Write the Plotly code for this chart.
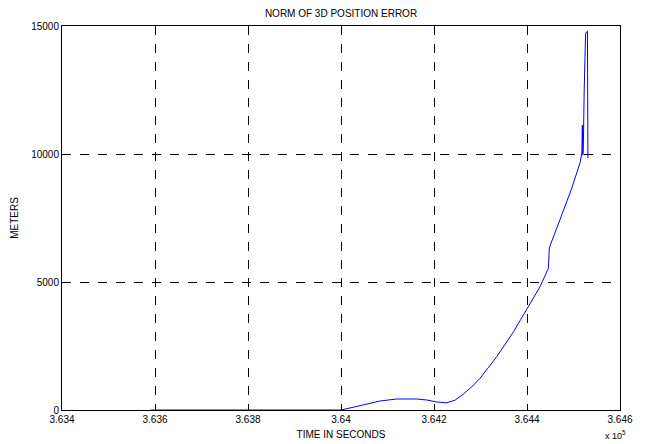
import plotly.graph_objects as go

# time in units of 1e5 seconds, error norm in meters
t = [3.6359, 3.6370, 3.6385, 3.6395, 3.6400, 3.64047, 3.64084, 3.64120, 3.64163,
     3.64185, 3.64206, 3.64227, 3.64245, 3.64263, 3.64281, 3.64299, 3.64335, 3.64371,
     3.64399, 3.64428, 3.64446, 3.64448, 3.64471, 3.64495, 3.64514, 3.64518,
     3.64519, 3.64520, 3.64521, 3.64523, 3.64526, 3.64528, 3.64530, 3.64531]
err = [0, 0, 0, 0, 0, 195, 352, 430, 430,
       390, 312, 280, 380, 620, 900, 1238, 2082, 3059,
       3906, 4816, 5535, 6340, 7440, 8600, 9648, 10039,
       11133, 9960, 10150, 12500, 14700, 14766, 14800, 9844]

xticks = [3.634, 3.636, 3.638, 3.640, 3.642, 3.644, 3.646]
xlabels = ["3.634", "3.636", "3.638", "3.64", "3.642", "3.644", "3.646"]
yticks = [0, 5000, 10000, 15000]
ylabels = ["0", "5000", "10000", "15000"]

fig = go.Figure()
fig.add_trace(go.Scatter(x=t, y=err, mode="lines",
                         line=dict(color="#0000ff", width=1)))

axis_style = dict(showline=True, linecolor="black", linewidth=1, mirror=True,
                  ticks="", showgrid=True, gridcolor="black", griddash="dash", gridwidth=1,
                  zeroline=False, automargin=False, tickfont=dict(size=10, color="black"))

fig.update_xaxes(range=[3.634, 3.646], tickvals=xticks, ticktext=xlabels,
                 title=dict(text="TIME IN SECONDS", font=dict(size=10, color="black"), standoff=6),
                 **axis_style)
fig.update_yaxes(range=[0, 15000], tickvals=yticks, ticktext=ylabels,
                 title=dict(text="METERS", font=dict(size=10, color="black"), standoff=10),
                 **axis_style)

fig.add_annotation(text="x 10<sup>5</sup>", xref="paper", yref="paper", x=1.0, y=-0.045,
                   xanchor="center", yanchor="top", xshift=-5, showarrow=False,
                   font=dict(size=9, color="black"))

# page body has an 8px margin, so the figure is a bit smaller than the window
fig.update_layout(width=637, height=436, showlegend=False,
                  font=dict(family="Liberation Sans, Arial, sans-serif", size=10, color="black"),
                  title=dict(text="NORM OF 3D POSITION ERROR", x=0.5, xref="paper",
                             y=1 - 5 / 436, yref="container",
                             xanchor="center", yanchor="middle", font=dict(size=10, color="black")),
                  margin=dict(l=54, r=25, t=18, b=34),
                  plot_bgcolor="white", paper_bgcolor="white")

fig.write_html("out.html")
